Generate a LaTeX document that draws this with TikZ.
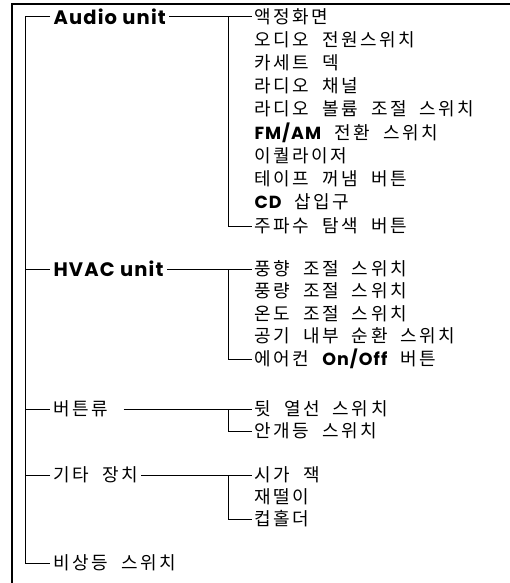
\documentclass[tikz,border=0pt]{standalone}
\usepackage{fontspec}
\setmainfont{Noto Sans CJK KR}[LetterSpace=14, WordSpace=2]
\newfontfamily\latfont{Poppins}[LetterSpace=6]
\newcommand{\enbold}[1]{{\fontsize{17.5}{17.5}\latfont\bfseries #1}}
\usetikzlibrary{positioning}

\begin{document}
\begin{tikzpicture}[
    x=1pt, y=-1pt,
    line width=1pt,
    item/.style={anchor=west, inner sep=2pt, font=\fontsize{18}{18}\selectfont},
    unit/.style={anchor=west, inner sep=3pt, font=\fontsize{19.5}{19.5}\latfont\bfseries}
  ]
    \useasboundingbox (0,0) rectangle (510,583);

    % columns: frame, main spine, groups, sub spine, items
    \def\cF{12} \def\cS{25} \def\cG{50} \def\cB{228} \def\cI{252}

    % frame
    \draw[line width=1.4pt] (\cF,583) -- (\cF,4) -- (510,4);

    \coordinate (spine) at (\cS,0);
    \coordinate (sub) at (\cB,0);

    % ---- Audio unit ----
    \node[unit] (audio) at (\cG,17) {Audio unit};
    \node[item] (a1) at (\cI,17) {액정화면};
    \node[item] (a2) at (\cI,40) {오디오 전원스위치};
    \node[item] (a3) at (\cI,63) {카세트 덱};
    \node[item] (a4) at (\cI,86) {라디오 채널};
    \node[item] (a5) at (\cI,109) {라디오 볼륨 조절 스위치};
    \node[item] (a6) at (\cI,133) {\enbold{FM/AM} 전환 스위치};
    \node[item] (a7) at (\cI,156) {이퀄라이저};
    \node[item] (a8) at (\cI,179) {테이프 꺼냄 버튼};
    \node[item] (a9) at (\cI,202) {\enbold{CD} 삽입구};
    \node[item] (a10) at (\cI,226) {주파수 탐색 버튼};

    \draw (audio.east) -- (a1.west);
    \draw (a1.west -| sub) -- (a10.west -| sub) -- (a10.west);

    % ---- HVAC unit ----
    \node[unit] (hvac) at (\cG,269) {HVAC unit};
    \node[item] (h1) at (\cI,269) {풍향 조절 스위치};
    \node[item] (h2) at (\cI,291) {풍량 조절 스위치};
    \node[item] (h3) at (\cI,314) {온도 조절 스위치};
    \node[item] (h4) at (\cI,336) {공기 내부 순환 스위치};
    \node[item] (h5) at (\cI,359) {에어컨 \enbold{On/Off} 버튼};

    \draw (hvac.east) -- (h1.west);
    \draw (h1.west -| sub) -- (h5.west -| sub) -- (h5.west);

    % ---- 버튼류 ----
    \node[item, inner sep=3pt] (btn) at (\cG,409) {버튼류};
    \node[item] (b1) at (\cI,409) {뒷 열선 스위치};
    \node[item] (b2) at (\cI,431) {안개등 스위치};

    \draw ([xshift=12pt]btn.east) -- (b1.west);
    \draw (b1.west -| sub) -- (b2.west -| sub) -- (b2.west);

    % ---- 기타 장치 ----
    \node[item, inner sep=3pt] (etc) at (\cG,475) {기타 장치};
    \node[item] (e1) at (\cI,475) {시가 잭};
    \node[item] (e2) at (\cI,497) {재떨이};
    \node[item] (e3) at (\cI,519) {컵홀더};

    \draw (etc.east) -- (e1.west);
    \draw (e1.west -| sub) -- (e3.west -| sub) -- (e3.west);

    % ---- 비상등 ----
    \node[item, inner sep=3pt] (emerg) at (\cG,563) {비상등 스위치};

    % main spine
    \draw (audio.west) -- (audio.west -| spine) -- (emerg.west -| spine) -- (emerg.west);
    \draw (hvac.west) -- (hvac.west -| spine);
    \draw (btn.west) -- (btn.west -| spine);
    \draw (etc.west) -- (etc.west -| spine);
\end{tikzpicture}
\end{document}
